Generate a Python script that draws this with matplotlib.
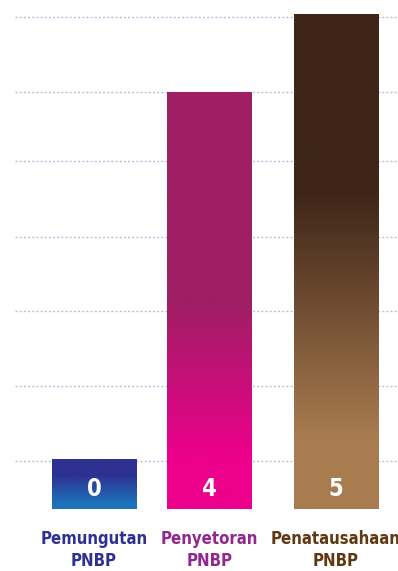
import numpy as np
import matplotlib.pyplot as plt
from matplotlib import font_manager
from matplotlib.colors import LinearSegmentedColormap

# data (bar heights in grid units, labels printed in bars)
categories = ["Pemungutan\nPNBP", "Penyetoran\nPNBP", "Penatausahaan\nPNBP"]
values = ["0", "4", "5"]
bar_heights = [0.67, 5.60, 6.64]
grid_levels = [0.644, 1.651, 2.658, 3.651, 4.671, 5.597, 6.608]

label_colors = ["#2E3192", "#92278F", "#603913"]
# (fraction of bar height from bottom, colour)
gradients = [
    [(0.0, "#1C75BC"), (0.08, "#1C75BC"), (0.68, "#2E3192"), (1.0, "#2E3192")],
    [(0.0, "#EC008C"), (0.125, "#EC008C"), (0.5, "#9E1F63"), (1.0, "#9E1F63")],
    [(0.0, "#A97C50"), (0.14, "#A97C50"), (0.64, "#3E2518"), (1.0, "#3E2518")],
]

# pick a narrow bold font if there is one
fonts = font_manager.fontManager.ttflist
names = {f.name for f in fonts}
if "Liberation Sans Narrow" in names:
    font_kw = dict(family=["Liberation Sans Narrow", "DejaVu Sans"])
    cat_size, val_size = 13.5, 17
elif any(f.name == "DejaVu Sans" and f.stretch == "condensed" for f in fonts):
    font_kw = dict(family=["DejaVu Sans"], fontstretch="condensed")
    cat_size, val_size = 12, 17
else:
    font_kw = dict(family=["Roboto", "DejaVu Sans"])
    cat_size, val_size = 12, 17

fig = plt.figure(figsize=(3.98, 5.71), dpi=100)
ax = fig.add_axes([15 / 398, 62 / 571, 383 / 398, 509 / 571])

xpos = [0, 0.955, 2]
width = 0.70

for g in grid_levels:
    ax.axhline(g, color="#AFC4DC", lw=1.0, ls=(0, (1.5, 1.5)), zorder=1)

for i, (x, h) in enumerate(zip(xpos, bar_heights)):
    bar = ax.bar(x, h, width=width, color="none", zorder=2)[0]
    cmap = LinearSegmentedColormap.from_list("g%d" % i, gradients[i])
    grad = np.linspace(0, 1, 256).reshape(-1, 1)
    im = ax.imshow(grad, cmap=cmap, origin="lower", aspect="auto",
                   extent=(x - width / 2, x + width / 2, 0, h), zorder=2)
    im.set_clip_path(bar)
    ax.text(x, 0.27, values[i], ha="center", va="center", color="white",
            fontsize=val_size, fontweight="bold", zorder=3, **font_kw)
    ax.text(x, -0.28, categories[i], ha="center", va="top", color=label_colors[i],
            fontsize=cat_size, fontweight="bold", linespacing=1.3,
            clip_on=False, **font_kw)

ax.set_xlim(-0.653, 2.512)
ax.set_ylim(0, 6.83)
ax.axis("off")

fig.savefig("out.png", dpi=100)
